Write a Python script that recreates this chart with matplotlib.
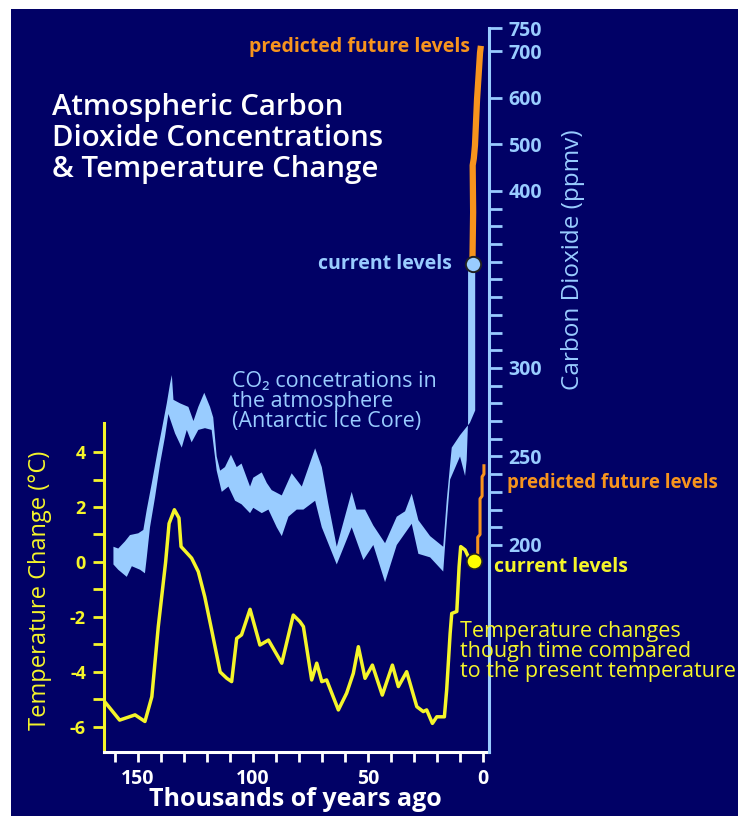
import numpy as np
import matplotlib
matplotlib.use('Agg')
import matplotlib.pyplot as plt
from matplotlib.patches import Rectangle
from matplotlib.ticker import FixedLocator, NullFormatter

plt.rcParams['font.family'] = ['Open Sans', 'DejaVu Sans']
plt.rcParams['axes.unicode_minus'] = False

# colours
navy = '#010166'
light_blue = '#99ccff'
orange = '#f7941d'
yellow = '#f5f52a'

# temperature record (thousands of years ago, deg C relative to present)
temp_age = [164.8, 158, 151.3, 147, 144, 141.2, 138, 136.5, 134.2, 132.2, 131.3,
            126.7, 123.8, 121, 118, 114.3, 111.4, 109.3, 107.1, 105, 101.3, 97,
            93.3, 87.5, 82.5, 79.6, 78.1, 74.5, 72.3, 70.1, 68, 62.9, 59.3, 56.4,
            54.2, 51.3, 48.1, 43.8, 39.4, 36.8, 33.2, 28.8, 26, 24.5, 22, 20.1,
            16.8, 15.8, 14.3, 13.6, 11.4, 10.4, 9.7, 7.8, 6.4, 3.8]
temp_val = [-5.05, -5.75, -5.56, -5.8, -4.9, -2.35, 0.0, 1.4, 1.9, 1.6, 0.56,
            0.14, -0.35, -1.26, -2.47, -4.0, -4.23, -4.35, -2.78, -2.65, -1.72, -3.02,
            -2.84, -3.68, -1.93, -2.17, -2.35, -4.29, -3.68, -4.35, -4.29, -5.38, -4.77, -4.05,
            -3.08, -4.23, -3.75, -4.84, -3.75, -4.53, -3.99, -5.26, -5.44, -5.38, -5.87, -5.63,
            -5.63, -4.65, -2.6, -1.87, -1.8, -0.17, 0.56, 0.44, 0.19, 0.05]

# predicted temperature
temp_future_age = [3.8, 2.3, 2.3, 1.3, 1.3, 0.4, 0.4, -0.4, -0.4]
temp_future_val = [0.05, 0.2, 0.9, 1.0, 2.3, 2.4, 3.1, 3.2, 3.5]

# CO2 band (ppmv), upper and lower edge
co2_up_age = [160.7, 158.6, 155.7, 153.5, 149.9, 147.7, 146.2, 144, 141.2, 139.7, 137.5,
              136.1, 135.3, 134.6, 131.7, 128.1, 125.9, 123.8, 121.2, 118.7, 117.3, 115.8,
              114.3, 112.2, 109.6, 107.1, 105, 101.3, 99.9, 96.2, 94, 91.9, 87.5, 83.2,
              78.8, 73, 70.1, 67.3, 63.6, 57.1, 55, 51.3, 47.7, 42.6, 37.5, 33.9, 31,
              28.1, 23, 17.3, 15.8, 13.6, 10, 5.7, 3.4, 3.4]
co2_up_val = [199, 198, 202, 205.6, 206.6, 208.5, 220, 235, 255, 265, 280,
              291, 296, 282, 280, 278, 270, 278, 286, 278, 272, 250,
              242, 244, 251, 244, 246, 233, 238, 241, 235, 231, 228, 240.5,
              233, 254.6, 244, 223.6, 199, 230, 220, 220, 211, 201, 216, 219, 229,
              214, 205, 199, 225, 255, 262, 269, 276, 358]
co2_lo_age = [160.7, 158.6, 154.9, 152.7, 149.1, 147, 146.2, 144.8, 142.6, 140.4, 138.3,
              136.8, 133.9, 131, 128.8, 126.7, 123.8, 120.9, 118, 115.8, 113.6, 110.7,
              107.8, 105, 101.3, 99.9, 96.2, 93.3, 89.7, 87.5, 84.6, 81, 78.1, 73,
              70.1, 63.6, 57.1, 52, 47.7, 42.6, 37.5, 31, 28.1, 23, 17.3, 16.1, 14.3,
              10, 7.8, 7.1, 6.5, 6.5]
co2_lo_val = [189, 186, 182, 188, 186, 184, 193, 210, 227, 246, 261,
              274, 263, 255, 265, 258, 265, 266, 265, 242, 230, 233,
              225, 223, 218, 221, 218, 220, 210, 205, 216, 220, 220, 225,
              210, 189, 210, 191.5, 200, 179, 200, 212, 195, 193, 185, 207, 237,
              250, 239, 248, 270, 358]

# predicted CO2
co2_future_age = [4.6, 4.3, 4.5, 4.0, 3.5, 2.6, 1.9, 1.3, 1.1]
co2_future_val = [360, 388, 455, 470, 498, 597, 650, 697, 705]
co2_now = (4.4, 359)
temp_now = (3.8, 0.05)

# broken CO2 scale: linear to 400, compressed above
r = 0.263


def fwd(v):
    v = np.asarray(v, dtype=float)
    return np.where(v <= 400, v, 400 + (v - 400) * r)


def inv(t):
    t = np.asarray(t, dtype=float)
    return np.where(t <= 400, t, 400 + (t - 400) / r)


W, H = 738, 816
fig = plt.figure(figsize=(W / 100, H / 100), dpi=100, facecolor='white')
fig.patches.append(Rectangle((11 / W, 0), 1, 1 - 9 / H, transform=fig.transFigure,
                             facecolor=navy, edgecolor='none', zorder=-10))

ax = fig.add_axes([104 / W, 1 - 752 / H, (489 - 104) / W, (752 - 28) / H])
ax.set_facecolor('none')
ax.set_xlim(164.8, -2.6)
ax.set_ylim(-6.91, 19.42)

ax.plot(temp_age, temp_val, color=yellow, lw=2.5, solid_joinstyle='round', zorder=3)
ax.plot(temp_future_age, temp_future_val, color=orange, lw=2.2, zorder=3)
ax.plot(*temp_now, 'o', ms=11, mfc='#ffff00', mec='#222222', mew=1.2, zorder=5)

for s in ['top', 'right']:
    ax.spines[s].set_visible(False)
ax.spines['left'].set_color(yellow)
ax.spines['left'].set_linewidth(2.2)
ax.spines['left'].set_bounds(-6.91, 5.07)
ax.spines['bottom'].set_color('white')
ax.spines['bottom'].set_linewidth(2.2)

ax.yaxis.set_major_locator(FixedLocator([-6, -4, -2, 0, 2, 4]))
ax.yaxis.set_minor_locator(FixedLocator([-5, -3, -1, 1, 3]))
ax.tick_params(axis='y', which='both', colors=yellow, length=8, width=2, pad=5)
ax.tick_params(axis='y', which='major', labelsize=13, labelcolor=yellow)
for lab in ax.get_yticklabels():
    lab.set_fontweight('bold')

ax.xaxis.set_major_locator(FixedLocator([150, 100, 50, 0]))
ax.xaxis.set_minor_locator(FixedLocator([160, 140, 130, 120, 110, 90, 80, 70, 60, 40, 30, 20, 10]))
ax.tick_params(axis='x', which='both', colors='white', length=7, width=2, pad=5)
ax.tick_params(axis='x', which='major', labelsize=14)
for lab in ax.get_xticklabels():
    lab.set_fontweight('bold')

ax2 = ax.twinx()
ax2.set_yscale('function', functions=(fwd, inv))
ax2.set_ylim(83.05, 750)
ax2.fill(co2_up_age + co2_lo_age[::-1], co2_up_val + co2_lo_val[::-1],
         color=light_blue, lw=0, zorder=2)
ax2.plot(co2_future_age, co2_future_val, color=orange, lw=4.5, zorder=3)
ax2.plot(*co2_now, 'o', ms=11, mfc=light_blue, mec='#222222', mew=1.4, zorder=5)

for s in ['top', 'left', 'bottom']:
    ax2.spines[s].set_visible(False)
ax2.spines['right'].set_color(light_blue)
ax2.spines['right'].set_linewidth(2.2)
ax2.yaxis.set_major_locator(FixedLocator([200, 250, 300, 400, 500, 600, 700, 750]))
ax2.yaxis.set_minor_locator(FixedLocator([v for v in range(210, 400, 10) if v not in (250, 300)]))
ax2.yaxis.set_minor_formatter(NullFormatter())
ax2.tick_params(axis='y', which='both', colors=light_blue, length=9, width=2, pad=5)
ax2.tick_params(axis='y', which='major', labelsize=14)
for lab in ax2.get_yticklabels():
    lab.set_fontweight('bold')


def ftext(x, y, s, **kw):
    fig.text(x / W, 1 - y / H, s, **kw)


ftext(52, 93, 'Atmospheric Carbon\nDioxide Concentrations\n& Temperature Change',
      color='white', fontsize=21.2, fontweight='semibold', va='top', ha='left',
      linespacing=1.08)
ftext(470, 47, 'predicted future levels', color=orange, fontsize=14,
      fontweight='bold', ha='right', va='center')
ftext(452, 264, 'current levels', color=light_blue, fontsize=14,
      fontweight='bold', ha='right', va='center')
ftext(573, 260, 'Carbon Dioxide (ppmv)', color=light_blue, fontsize=17.5,
      rotation=90, ha='center', va='center')
ftext(232, 371, 'CO₂ concetrations in\nthe atmosphere\n(Antarctic Ice Core)',
      color=light_blue, fontsize=15.5, ha='left', va='top', linespacing=0.95)
ftext(507, 483, 'predicted future levels', color=orange, fontsize=13.4,
      fontweight='bold', ha='left', va='center')
ftext(494, 567, 'current levels', color=yellow, fontsize=14,
      fontweight='bold', ha='left', va='center')
ftext(460, 621, 'Temperature changes\nthough time compared\nto the present temperature',
      color=yellow, fontsize=15.5, ha='left', va='top', linespacing=0.95)
ftext(40, 590, 'Temperature Change (°C)', color=yellow, fontsize=17,
      rotation=90, ha='center', va='center')
ftext(295, 800, 'Thousands of years ago', color='white', fontsize=18,
      fontweight='bold', ha='center', va='center')

fig.savefig('out.png', dpi=100, facecolor='white')
